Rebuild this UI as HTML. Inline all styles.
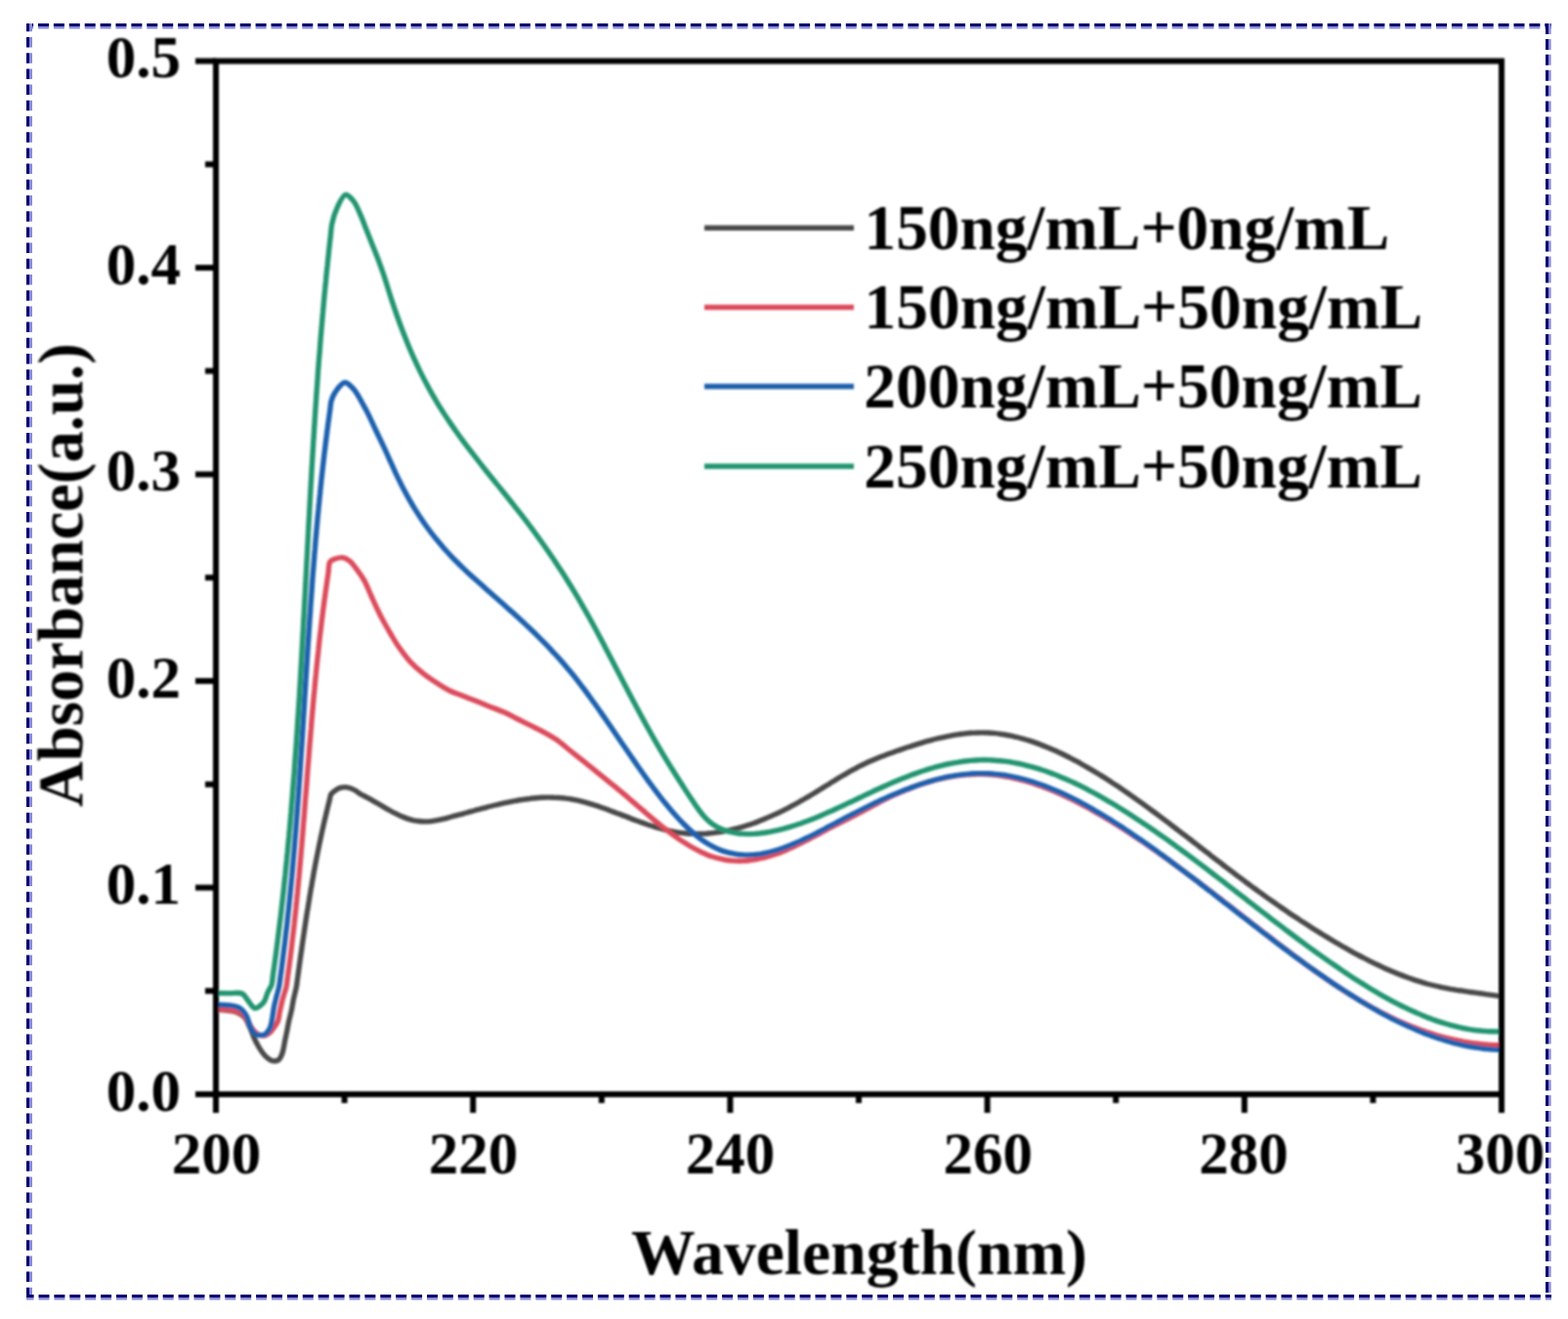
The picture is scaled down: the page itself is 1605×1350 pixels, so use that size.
<!DOCTYPE html><html><head><meta charset="utf-8"><style>html,body{margin:0;padding:0;background:#fff;overflow:hidden;width:1605px;height:1350px;}svg{display:block}text{font-family:"Liberation Serif",serif;font-weight:bold;fill:#000}</style></head><body>
<svg width="1605" height="1350" viewBox="0 0 1605 1350">
<defs><filter id="bl" x="0" y="0" width="1605" height="1350" filterUnits="userSpaceOnUse"><feGaussianBlur stdDeviation="1"/></filter></defs>
<rect width="1605" height="1350" fill="#fff"/>
<line x1="27" y1="25.5" x2="1588" y2="25.5" stroke="#00006e" stroke-width="3" stroke-dasharray="11 4.9" stroke-dashoffset="3.9"/>
<line x1="27" y1="28.3" x2="1588" y2="28.3" stroke="#8a8ad6" stroke-width="2.6" stroke-dasharray="11 4.9" stroke-dashoffset="3.9"/>
<line x1="28.5" y1="24" x2="28.5" y2="1330" stroke="#00006e" stroke-width="3" stroke-dasharray="10.5 5.7" stroke-dashoffset="2.2"/>
<line x1="31.5" y1="24" x2="31.5" y2="1330" stroke="#8a8ad6" stroke-width="3" stroke-dasharray="10.5 5.7" stroke-dashoffset="2.2"/>
<line x1="1583.5" y1="24" x2="1583.5" y2="1330" stroke="#00006e" stroke-width="3" stroke-dasharray="11 4.9" stroke-dashoffset="0"/>
<line x1="1586.3" y1="24" x2="1586.3" y2="1330" stroke="#8a8ad6" stroke-width="2.6" stroke-dasharray="11 4.9" stroke-dashoffset="0"/>
<line x1="27" y1="1326.5" x2="1588" y2="1326.5" stroke="#00006e" stroke-width="3" stroke-dasharray="11 4.9" stroke-dashoffset="3.4"/>
<line x1="27" y1="1329.3" x2="1588" y2="1329.3" stroke="#8a8ad6" stroke-width="2.6" stroke-dasharray="11 4.9" stroke-dashoffset="3.4"/>
<g filter="url(#bl)">
<path d="M221.0 1033.5 C224.7 1033.7 228.4 1033.6 232.0 1034.0 C235.4 1034.4 239.0 1034.8 242.0 1036.0 C244.9 1037.2 247.8 1038.6 250.0 1041.0 C252.6 1043.7 254.2 1048.3 256.0 1052.0 C257.7 1055.6 258.9 1059.8 260.4 1063.0 C261.6 1065.6 262.7 1067.7 264.0 1070.0 C265.3 1072.3 266.6 1074.6 268.2 1076.7 C269.7 1078.8 271.5 1081.0 273.3 1082.5 C274.8 1083.8 276.5 1084.9 278.0 1085.5 C279.1 1085.9 280.0 1086.0 281.1 1086.0 C282.3 1085.9 283.9 1085.8 285.0 1085.0 C286.3 1084.1 287.2 1082.1 288.0 1080.5 C288.8 1078.8 289.3 1077.1 289.8 1075.0 C290.5 1072.4 290.9 1069.1 291.5 1066.0 C292.1 1062.8 292.9 1059.4 293.6 1056.0 C294.3 1052.6 294.8 1049.1 295.6 1045.6 C296.4 1042.1 297.4 1038.7 298.2 1035.0 C299.1 1030.9 299.7 1026.2 300.6 1022.0 C301.5 1017.9 302.7 1013.6 303.4 1010.0 C303.9 1007.1 304.1 1004.7 304.5 1002.0 C304.9 999.3 305.2 996.7 305.6 994.0 C306.0 991.3 306.3 988.7 306.7 986.0 C307.1 983.3 307.4 980.7 307.8 978.0 C308.2 975.3 308.6 972.7 309.0 970.0 C309.3 967.3 309.7 964.7 310.1 962.0 C310.5 959.3 310.9 956.7 311.3 954.0 C311.7 951.3 312.1 948.7 312.5 946.0 C312.9 943.3 313.3 940.7 313.7 938.0 C314.1 935.3 314.5 932.7 315.0 930.0 C315.4 927.3 315.8 924.7 316.3 922.0 C316.7 919.3 317.1 916.7 317.6 914.0 C318.0 911.3 318.5 908.7 319.0 906.0 C319.4 903.3 319.9 900.7 320.4 898.0 C320.8 895.3 321.3 892.7 321.8 890.0 C322.3 887.3 322.8 884.7 323.3 882.0 C323.8 879.3 324.4 876.7 324.9 874.0 C325.4 871.3 326.0 868.7 326.5 866.0 C327.1 863.3 327.6 860.7 328.2 858.0 C328.8 855.3 329.3 852.7 329.9 850.0 C330.5 847.3 331.1 844.7 331.7 842.0 C332.3 839.3 333.0 836.7 333.6 834.0 C334.2 831.3 334.9 828.7 335.5 826.0 C336.2 823.3 336.9 820.4 337.5 818.0 C338.0 816.1 337.9 814.5 338.8 813.0 C339.9 811.3 342.2 809.7 344.0 808.5 C345.6 807.5 347.4 806.7 349.0 806.2 C350.4 805.8 351.6 805.6 353.0 805.6 C354.6 805.6 356.3 806.0 358.0 806.5 C359.8 807.1 361.8 808.0 363.6 809.0 C365.5 810.1 367.1 811.7 369.0 812.8 C370.9 814.0 373.0 814.7 375.0 815.8 C377.0 816.8 379.0 817.9 381.0 819.1 C383.0 820.2 385.0 821.4 387.0 822.5 C389.0 823.7 391.0 824.9 393.0 826.1 C395.0 827.2 397.0 828.4 399.0 829.5 C401.0 830.6 403.0 831.7 405.0 832.7 C407.0 833.7 409.0 834.7 411.0 835.6 C413.0 836.4 415.0 837.2 417.0 837.9 C419.0 838.6 421.0 839.1 423.0 839.6 C425.0 840.0 427.0 840.3 429.0 840.5 C431.0 840.8 433.0 840.9 435.0 840.9 C437.0 840.9 439.0 840.8 441.0 840.6 C443.0 840.4 445.0 840.1 447.0 839.7 C449.0 839.4 451.0 838.9 453.0 838.4 C455.0 837.9 457.0 837.4 459.0 836.8 C461.0 836.3 463.0 835.7 465.0 835.2 C467.0 834.7 469.0 834.1 471.0 833.6 C473.0 833.1 475.0 832.5 477.0 832.0 C479.0 831.4 481.0 830.9 483.0 830.3 C485.0 829.8 487.0 829.2 489.0 828.7 C491.0 828.2 493.0 827.6 495.0 827.1 C497.0 826.6 499.0 826.0 501.0 825.5 C503.0 825.0 505.0 824.5 507.0 824.0 C509.0 823.5 511.0 823.1 513.0 822.6 C515.0 822.2 517.0 821.7 519.0 821.3 C521.0 820.9 523.0 820.5 525.0 820.1 C527.0 819.7 529.0 819.4 531.0 819.0 C533.0 818.7 535.0 818.4 537.0 818.1 C539.0 817.8 541.0 817.6 543.0 817.3 C545.0 817.1 547.0 816.9 549.0 816.7 C551.0 816.5 553.0 816.4 555.0 816.3 C557.0 816.2 559.0 816.1 561.0 816.1 C563.0 816.1 565.0 816.1 567.0 816.2 C569.0 816.2 571.0 816.3 573.0 816.5 C575.0 816.6 577.0 816.8 579.0 817.1 C581.0 817.3 583.0 817.7 585.0 818.0 C587.0 818.4 589.0 818.8 591.0 819.2 C593.0 819.6 595.0 820.1 597.0 820.7 C599.0 821.2 601.0 821.7 603.0 822.3 C605.0 822.9 607.0 823.5 609.0 824.2 C611.0 824.8 613.0 825.5 615.0 826.2 C617.0 826.9 619.0 827.6 621.0 828.3 C623.0 829.1 625.0 829.8 627.0 830.6 C629.0 831.3 631.0 832.1 633.0 832.8 C635.0 833.6 637.0 834.4 639.0 835.1 C641.0 835.9 643.0 836.7 645.0 837.4 C647.0 838.2 649.0 839.0 651.0 839.7 C653.0 840.4 655.0 841.2 657.0 841.9 C659.0 842.6 661.0 843.3 663.0 844.0 C665.0 844.6 667.0 845.3 669.0 845.9 C671.0 846.6 673.0 847.2 675.0 847.7 C677.0 848.3 679.0 848.8 681.0 849.3 C683.0 849.8 685.0 850.3 687.0 850.7 C689.0 851.1 691.0 851.5 693.0 851.8 C695.0 852.1 697.0 852.4 699.0 852.6 C701.0 852.8 703.0 853.0 705.0 853.2 C707.0 853.3 709.0 853.4 711.0 853.4 C713.0 853.5 715.0 853.5 717.0 853.4 C719.0 853.4 721.0 853.3 723.0 853.2 C725.0 853.0 727.0 852.9 729.0 852.6 C731.0 852.4 733.0 852.2 735.0 851.9 C737.0 851.6 739.0 851.3 741.0 850.9 C743.0 850.5 745.0 850.1 747.0 849.7 C749.0 849.2 751.0 848.7 753.0 848.2 C755.0 847.7 757.0 847.2 759.0 846.6 C761.0 846.0 763.0 845.4 765.0 844.7 C767.0 844.1 769.0 843.4 771.0 842.7 C773.0 842.0 775.0 841.2 777.0 840.4 C779.0 839.7 781.0 838.9 783.0 838.0 C785.0 837.2 787.0 836.3 789.0 835.4 C791.0 834.6 793.0 833.6 795.0 832.7 C797.0 831.8 799.0 830.8 801.0 829.8 C803.0 828.8 805.0 827.8 807.0 826.8 C809.0 825.7 811.0 824.6 813.0 823.6 C815.0 822.5 817.0 821.4 819.0 820.2 C821.0 819.1 823.0 818.0 825.0 816.8 C827.0 815.6 829.0 814.5 831.0 813.3 C833.0 812.1 835.0 810.8 837.0 809.6 C839.0 808.4 841.0 807.1 843.0 805.9 C845.0 804.7 847.0 803.4 849.0 802.2 C851.0 800.9 853.0 799.7 855.0 798.4 C857.0 797.2 859.0 796.0 861.0 794.8 C863.0 793.6 865.0 792.4 867.0 791.3 C869.0 790.1 871.0 789.0 873.0 787.9 C875.0 786.8 877.0 785.8 879.0 784.7 C881.0 783.7 883.0 782.7 885.0 781.8 C887.0 780.8 889.0 779.9 891.0 779.0 C893.0 778.2 895.0 777.3 897.0 776.5 C899.0 775.7 901.0 774.9 903.0 774.1 C905.0 773.3 907.0 772.6 909.0 771.8 C911.0 771.1 913.0 770.4 915.0 769.7 C917.0 768.9 919.0 768.3 921.0 767.6 C923.0 766.9 925.0 766.2 927.0 765.5 C929.0 764.9 931.0 764.2 933.0 763.6 C935.0 762.9 937.0 762.3 939.0 761.6 C941.0 761.0 943.0 760.4 945.0 759.8 C947.0 759.2 949.0 758.7 951.0 758.1 C953.0 757.6 955.0 757.0 957.0 756.5 C959.0 756.0 961.0 755.5 963.0 755.1 C965.0 754.6 967.0 754.2 969.0 753.8 C971.0 753.4 973.0 753.0 975.0 752.6 C977.0 752.3 979.0 751.9 981.0 751.6 C983.0 751.4 985.0 751.1 987.0 750.9 C989.0 750.7 991.0 750.5 993.0 750.3 C995.0 750.2 997.0 750.0 999.0 750.0 C1001.0 749.9 1003.0 749.9 1005.0 749.9 C1007.0 749.9 1009.0 749.9 1011.0 750.0 C1013.0 750.1 1015.0 750.2 1017.0 750.4 C1019.0 750.6 1021.0 750.8 1023.0 751.1 C1025.0 751.4 1027.0 751.7 1029.0 752.0 C1031.0 752.3 1033.0 752.7 1035.0 753.1 C1037.0 753.6 1039.0 754.0 1041.0 754.5 C1043.0 755.0 1045.0 755.5 1047.0 756.1 C1049.0 756.7 1051.0 757.3 1053.0 757.9 C1055.0 758.5 1057.0 759.2 1059.0 759.9 C1061.0 760.6 1063.0 761.3 1065.0 762.1 C1067.0 762.8 1069.0 763.6 1071.0 764.4 C1073.0 765.2 1075.0 766.1 1077.0 767.0 C1079.0 767.8 1081.0 768.7 1083.0 769.7 C1085.0 770.6 1087.0 771.5 1089.0 772.5 C1091.0 773.5 1093.0 774.5 1095.0 775.5 C1097.0 776.6 1099.0 777.6 1101.0 778.7 C1103.0 779.7 1105.0 780.8 1107.0 782.0 C1109.0 783.1 1111.0 784.2 1113.0 785.4 C1115.0 786.5 1117.0 787.7 1119.0 788.9 C1121.0 790.1 1123.0 791.3 1125.0 792.5 C1127.0 793.8 1129.0 795.0 1131.0 796.3 C1133.0 797.6 1135.0 798.9 1137.0 800.1 C1139.0 801.5 1141.0 802.8 1143.0 804.1 C1145.0 805.4 1147.0 806.8 1149.0 808.1 C1151.0 809.5 1153.0 810.9 1155.0 812.3 C1157.0 813.7 1159.0 815.1 1161.0 816.5 C1163.0 817.9 1165.0 819.3 1167.0 820.7 C1169.0 822.2 1171.0 823.6 1173.0 825.1 C1175.0 826.5 1177.0 828.0 1179.0 829.5 C1181.0 830.9 1183.0 832.4 1185.0 833.9 C1187.0 835.4 1189.0 836.9 1191.0 838.4 C1193.0 839.9 1195.0 841.4 1197.0 842.9 C1199.0 844.5 1201.0 846.0 1203.0 847.5 C1205.0 849.0 1207.0 850.6 1209.0 852.1 C1211.0 853.6 1213.0 855.2 1215.0 856.7 C1217.0 858.2 1219.0 859.8 1221.0 861.3 C1223.0 862.9 1225.0 864.4 1227.0 866.0 C1229.0 867.5 1231.0 869.1 1233.0 870.6 C1235.0 872.2 1237.0 873.7 1239.0 875.3 C1241.0 876.8 1243.0 878.3 1245.0 879.9 C1247.0 881.4 1249.0 883.0 1251.0 884.5 C1253.0 886.0 1255.0 887.6 1257.0 889.1 C1259.0 890.6 1261.0 892.1 1263.0 893.6 C1265.0 895.2 1267.0 896.7 1269.0 898.2 C1271.0 899.7 1273.0 901.2 1275.0 902.7 C1277.0 904.1 1279.0 905.6 1281.0 907.1 C1283.0 908.6 1285.0 910.0 1287.0 911.5 C1289.0 912.9 1291.0 914.4 1293.0 915.8 C1295.0 917.3 1297.0 918.7 1299.0 920.1 C1301.0 921.5 1303.0 922.9 1305.0 924.3 C1307.0 925.7 1309.0 927.1 1311.0 928.5 C1313.0 929.9 1315.0 931.2 1317.0 932.6 C1319.0 934.0 1321.0 935.3 1323.0 936.7 C1325.0 938.0 1327.0 939.3 1329.0 940.6 C1331.0 942.0 1333.0 943.3 1335.0 944.6 C1337.0 945.9 1339.0 947.2 1341.0 948.4 C1343.0 949.7 1345.0 951.0 1347.0 952.2 C1349.0 953.5 1351.0 954.7 1353.0 956.0 C1355.0 957.2 1357.0 958.4 1359.0 959.6 C1361.0 960.8 1363.0 962.0 1365.0 963.2 C1367.0 964.4 1369.0 965.6 1371.0 966.7 C1373.0 967.9 1375.0 969.1 1377.0 970.2 C1379.0 971.3 1381.0 972.5 1383.0 973.6 C1385.0 974.7 1387.0 975.8 1389.0 976.8 C1391.0 977.9 1393.0 979.0 1395.0 980.0 C1397.0 981.1 1399.0 982.1 1401.0 983.1 C1403.0 984.1 1405.0 985.1 1407.0 986.1 C1409.0 987.0 1411.0 988.0 1413.0 988.9 C1415.0 989.9 1417.0 990.8 1419.0 991.7 C1421.0 992.6 1423.0 993.4 1425.0 994.3 C1427.0 995.1 1429.0 996.0 1431.0 996.8 C1433.0 997.6 1435.0 998.4 1437.0 999.1 C1439.0 999.9 1441.0 1000.6 1443.0 1001.3 C1445.0 1002.0 1447.0 1002.7 1449.0 1003.4 C1451.0 1004.0 1453.0 1004.6 1455.0 1005.2 C1457.0 1005.8 1459.0 1006.4 1461.0 1007.0 C1463.0 1007.5 1465.0 1008.0 1467.0 1008.5 C1469.0 1009.0 1471.0 1009.5 1473.0 1009.9 C1475.0 1010.3 1477.0 1010.8 1479.0 1011.1 C1481.0 1011.5 1483.0 1011.9 1485.0 1012.3 C1487.0 1012.6 1489.0 1012.9 1491.0 1013.3 C1493.0 1013.6 1495.0 1013.9 1497.0 1014.2 C1499.0 1014.5 1501.0 1014.8 1503.0 1015.1 C1505.0 1015.4 1507.0 1015.6 1509.0 1015.9 C1511.0 1016.2 1513.0 1016.5 1515.0 1016.7 C1517.0 1017.0 1519.0 1017.3 1521.0 1017.6 C1523.0 1017.8 1524.8 1018.1 1527.0 1018.4 C1529.7 1018.8 1533.0 1019.4 1536.0 1019.8" fill="none" stroke="#4a4a4a" stroke-width="5.4" stroke-linejoin="round" stroke-linecap="round"/>
<path d="M221.0 1033.0 C224.7 1033.2 228.4 1033.2 232.0 1033.6 C235.4 1034.0 239.0 1034.6 242.0 1035.5 C244.6 1036.3 247.1 1036.9 249.0 1038.5 C251.1 1040.3 252.4 1043.4 254.0 1046.0 C255.7 1048.6 257.2 1051.8 259.0 1054.0 C260.5 1055.8 262.1 1057.5 264.0 1058.5 C265.8 1059.5 268.0 1060.2 270.0 1060.0 C272.0 1059.8 274.2 1058.4 276.0 1057.0 C277.9 1055.5 279.6 1053.1 281.0 1051.0 C282.4 1049.1 283.6 1047.3 284.5 1045.0 C285.6 1042.2 285.7 1038.5 286.5 1035.0 C287.4 1030.9 288.4 1026.2 289.5 1022.0 C290.6 1017.9 292.3 1013.6 293.1 1010.0 C293.7 1007.1 293.8 1004.7 294.2 1002.0 C294.6 999.3 294.9 996.7 295.3 994.0 C295.7 991.3 296.0 988.7 296.4 986.0 C296.7 983.3 297.1 980.7 297.4 978.0 C297.7 975.3 298.1 972.7 298.4 970.0 C298.7 967.3 299.0 964.7 299.3 962.0 C299.6 959.3 300.0 956.7 300.3 954.0 C300.6 951.3 300.9 948.7 301.2 946.0 C301.4 943.3 301.7 940.7 302.0 938.0 C302.3 935.3 302.6 932.7 302.9 930.0 C303.1 927.3 303.4 924.7 303.7 922.0 C303.9 919.3 304.2 916.7 304.5 914.0 C304.7 911.3 305.0 908.7 305.2 906.0 C305.5 903.3 305.7 900.7 306.0 898.0 C306.2 895.3 306.5 892.7 306.7 890.0 C306.9 887.3 307.2 884.7 307.4 882.0 C307.6 879.3 307.9 876.7 308.1 874.0 C308.3 871.3 308.5 868.7 308.8 866.0 C309.0 863.3 309.2 860.7 309.4 858.0 C309.7 855.3 309.9 852.7 310.1 850.0 C310.3 847.3 310.5 844.7 310.7 842.0 C311.0 839.3 311.2 836.7 311.4 834.0 C311.6 831.3 311.8 828.7 312.0 826.0 C312.2 823.3 312.4 820.7 312.6 818.0 C312.8 815.3 313.1 812.7 313.3 810.0 C313.5 807.3 313.7 804.7 313.9 802.0 C314.1 799.3 314.3 796.7 314.5 794.0 C314.7 791.3 314.9 788.7 315.1 786.0 C315.3 783.3 315.6 780.7 315.8 778.0 C316.0 775.3 316.2 772.7 316.4 770.0 C316.6 767.3 316.8 764.7 317.0 762.0 C317.3 759.3 317.5 756.7 317.7 754.0 C317.9 751.3 318.1 748.7 318.4 746.0 C318.6 743.3 318.8 740.7 319.0 738.0 C319.2 735.3 319.5 732.7 319.7 730.0 C319.9 727.3 320.2 724.7 320.4 722.0 C320.6 719.3 320.9 716.7 321.1 714.0 C321.4 711.3 321.6 708.7 321.9 706.0 C322.1 703.3 322.4 700.7 322.6 698.0 C322.9 695.3 323.1 692.7 323.4 690.0 C323.6 687.3 323.9 684.7 324.2 682.0 C324.5 679.3 324.7 676.7 325.0 674.0 C325.3 671.3 325.6 668.7 325.9 666.0 C326.1 663.3 326.4 660.7 326.7 658.0 C327.0 655.3 327.3 652.7 327.6 650.0 C327.9 647.3 328.3 644.7 328.6 642.0 C328.9 639.3 329.2 636.7 329.5 634.0 C329.9 631.3 330.2 628.7 330.5 626.0 C330.9 623.3 331.2 620.7 331.6 618.0 C331.9 615.3 332.3 612.7 332.7 610.0 C333.0 607.3 333.4 604.7 333.8 602.0 C334.2 599.3 334.5 596.7 334.9 594.0 C335.3 591.3 335.7 588.9 336.1 586.0 C336.6 582.6 336.2 577.3 337.8 575.0 C339.0 573.3 341.0 572.7 343.0 572.0 C345.2 571.2 348.2 570.3 350.7 570.7 C353.3 571.1 355.8 572.6 358.1 574.4 C360.8 576.6 363.2 580.1 365.6 583.3 C368.2 586.7 370.7 590.2 373.0 594.4 C375.6 599.2 377.8 605.3 380.2 610.5 C382.4 615.3 384.5 620.0 386.7 624.5 C388.8 628.9 391.0 633.2 393.3 637.3 C395.5 641.3 397.7 645.2 400.0 649.0 C402.2 652.7 404.0 656.0 406.7 660.0 C410.3 665.2 415.3 672.2 420.0 677.3 C424.2 681.9 428.7 685.7 433.3 689.3 C437.7 692.8 442.2 695.8 446.7 698.7 C451.1 701.6 455.5 704.5 460.0 706.7 C464.3 708.9 468.9 710.2 473.3 712.0 C477.8 713.8 482.2 715.5 486.7 717.3 C491.1 719.1 495.3 720.8 500.0 722.7 C505.2 724.8 511.5 727.0 516.7 729.3 C521.4 731.4 525.6 733.8 530.0 736.0 C534.4 738.2 538.9 740.5 543.3 742.7 C547.8 744.9 552.3 746.9 556.7 749.3 C561.2 751.8 565.7 754.3 570.0 757.3 C574.5 760.5 578.9 764.4 583.3 768.0 C587.8 771.6 592.2 775.1 596.7 778.7 C601.1 782.2 605.7 785.8 610.0 789.3 C614.1 792.6 618.7 796.4 622.0 799.1 C624.3 801.0 626.0 802.3 628.0 803.9 C630.0 805.5 632.0 807.2 634.0 808.9 C636.0 810.5 638.0 812.2 640.0 813.9 C642.0 815.6 644.0 817.4 646.0 819.1 C648.0 820.8 650.0 822.5 652.0 824.3 C654.0 826.0 656.0 827.7 658.0 829.4 C660.0 831.1 662.0 832.9 664.0 834.6 C666.0 836.3 668.0 837.9 670.0 839.6 C672.0 841.3 674.0 842.9 676.0 844.5 C678.0 846.1 680.0 847.7 682.0 849.2 C684.0 850.8 686.0 852.3 688.0 853.8 C690.0 855.3 692.0 856.7 694.0 858.1 C696.0 859.5 698.0 860.8 700.0 862.1 C702.0 863.4 704.0 864.7 706.0 865.8 C708.0 867.0 710.0 868.2 712.0 869.2 C714.0 870.3 716.0 871.3 718.0 872.3 C720.0 873.2 722.0 874.1 724.0 874.9 C726.0 875.7 728.0 876.4 730.0 877.0 C732.0 877.7 734.0 878.2 736.0 878.7 C738.0 879.2 740.0 879.6 742.0 880.0 C744.0 880.3 746.0 880.6 748.0 880.8 C750.0 880.9 752.0 881.1 754.0 881.1 C756.0 881.2 758.0 881.2 760.0 881.1 C762.0 881.0 764.0 880.9 766.0 880.7 C768.0 880.5 770.0 880.2 772.0 879.9 C774.0 879.6 776.0 879.2 778.0 878.7 C780.0 878.3 782.0 877.8 784.0 877.3 C786.0 876.7 788.0 876.2 790.0 875.5 C792.0 874.9 794.0 874.2 796.0 873.5 C798.0 872.7 800.0 872.0 802.0 871.2 C804.0 870.3 806.0 869.5 808.0 868.6 C810.0 867.7 812.0 866.8 814.0 865.8 C816.0 864.9 818.0 863.9 820.0 862.9 C822.0 861.9 824.0 860.9 826.0 859.9 C828.0 858.8 830.0 857.8 832.0 856.7 C834.0 855.7 836.0 854.6 838.0 853.6 C840.0 852.5 842.0 851.4 844.0 850.4 C846.0 849.3 848.0 848.2 850.0 847.2 C852.0 846.1 854.0 845.1 856.0 844.1 C858.0 843.1 860.0 842.1 862.0 841.1 C864.0 840.1 866.0 839.1 868.0 838.1 C870.0 837.1 872.0 836.1 874.0 835.0 C876.0 834.0 878.0 833.0 880.0 831.9 C882.0 830.9 884.0 829.8 886.0 828.7 C888.0 827.6 890.0 826.5 892.0 825.5 C894.0 824.4 896.0 823.3 898.0 822.3 C900.0 821.2 902.0 820.2 904.0 819.2 C906.0 818.2 908.0 817.2 910.0 816.2 C912.0 815.2 914.0 814.3 916.0 813.4 C918.0 812.5 920.0 811.6 922.0 810.7 C924.0 809.9 926.0 809.0 928.0 808.2 C930.0 807.4 932.0 806.6 934.0 805.9 C936.0 805.1 938.0 804.4 940.0 803.7 C942.0 803.0 944.0 802.3 946.0 801.7 C948.0 801.0 950.0 800.4 952.0 799.8 C954.0 799.3 956.0 798.7 958.0 798.2 C960.0 797.7 962.0 797.2 964.0 796.7 C966.0 796.3 968.0 795.9 970.0 795.5 C972.0 795.1 974.0 794.7 976.0 794.4 C978.0 794.1 980.0 793.8 982.0 793.6 C984.0 793.3 986.0 793.1 988.0 792.9 C990.0 792.8 992.0 792.6 994.0 792.5 C996.0 792.4 998.0 792.3 1000.0 792.3 C1002.0 792.3 1004.0 792.3 1006.0 792.3 C1008.0 792.4 1010.0 792.5 1012.0 792.6 C1014.0 792.7 1016.0 792.9 1018.0 793.1 C1020.0 793.3 1022.0 793.6 1024.0 793.9 C1026.0 794.1 1028.0 794.5 1030.0 794.8 C1032.0 795.2 1034.0 795.5 1036.0 796.0 C1038.0 796.4 1040.0 796.8 1042.0 797.3 C1044.0 797.8 1046.0 798.3 1048.0 798.9 C1050.0 799.5 1052.0 800.0 1054.0 800.7 C1056.0 801.3 1058.0 801.9 1060.0 802.6 C1062.0 803.3 1064.0 804.0 1066.0 804.7 C1068.0 805.4 1070.0 806.2 1072.0 807.0 C1074.0 807.8 1076.0 808.6 1078.0 809.4 C1080.0 810.3 1082.0 811.1 1084.0 812.0 C1086.0 812.9 1088.0 813.8 1090.0 814.8 C1092.0 815.7 1094.0 816.7 1096.0 817.6 C1098.0 818.6 1100.0 819.6 1102.0 820.6 C1104.0 821.7 1106.0 822.7 1108.0 823.8 C1110.0 824.8 1112.0 825.9 1114.0 827.0 C1116.0 828.1 1118.0 829.2 1120.0 830.4 C1122.0 831.5 1124.0 832.7 1126.0 833.8 C1128.0 835.0 1130.0 836.2 1132.0 837.4 C1134.0 838.6 1136.0 839.8 1138.0 841.0 C1140.0 842.2 1142.0 843.5 1144.0 844.7 C1146.0 846.0 1148.0 847.3 1150.0 848.5 C1152.0 849.8 1154.0 851.1 1156.0 852.4 C1158.0 853.7 1160.0 855.1 1162.0 856.4 C1164.0 857.7 1166.0 859.1 1168.0 860.4 C1170.0 861.8 1172.0 863.2 1174.0 864.5 C1176.0 865.9 1178.0 867.3 1180.0 868.7 C1182.0 870.1 1184.0 871.5 1186.0 872.9 C1188.0 874.3 1190.0 875.8 1192.0 877.2 C1194.0 878.6 1196.0 880.1 1198.0 881.5 C1200.0 883.0 1202.0 884.5 1204.0 885.9 C1206.0 887.4 1208.0 888.9 1210.0 890.4 C1212.0 891.8 1214.0 893.3 1216.0 894.8 C1218.0 896.3 1220.0 897.8 1222.0 899.3 C1224.0 900.8 1226.0 902.4 1228.0 903.9 C1230.0 905.4 1232.0 906.9 1234.0 908.4 C1236.0 910.0 1238.0 911.5 1240.0 913.0 C1242.0 914.6 1244.0 916.1 1246.0 917.6 C1248.0 919.2 1250.0 920.7 1252.0 922.3 C1254.0 923.8 1256.0 925.4 1258.0 926.9 C1260.0 928.5 1262.0 930.0 1264.0 931.6 C1266.0 933.1 1268.0 934.7 1270.0 936.2 C1272.0 937.8 1274.0 939.3 1276.0 940.9 C1278.0 942.5 1280.0 944.0 1282.0 945.6 C1284.0 947.1 1286.0 948.7 1288.0 950.2 C1290.0 951.8 1292.0 953.3 1294.0 954.9 C1296.0 956.4 1298.0 958.0 1300.0 959.5 C1302.0 961.0 1304.0 962.6 1306.0 964.1 C1308.0 965.6 1310.0 967.1 1312.0 968.7 C1314.0 970.2 1316.0 971.7 1318.0 973.2 C1320.0 974.7 1322.0 976.2 1324.0 977.7 C1326.0 979.2 1328.0 980.7 1330.0 982.2 C1332.0 983.6 1334.0 985.1 1336.0 986.6 C1338.0 988.0 1340.0 989.5 1342.0 990.9 C1344.0 992.3 1346.0 993.8 1348.0 995.2 C1350.0 996.6 1352.0 998.0 1354.0 999.4 C1356.0 1000.8 1358.0 1002.1 1360.0 1003.5 C1362.0 1004.9 1364.0 1006.2 1366.0 1007.6 C1368.0 1008.9 1370.0 1010.2 1372.0 1011.5 C1374.0 1012.8 1376.0 1014.1 1378.0 1015.4 C1380.0 1016.7 1382.0 1017.9 1384.0 1019.2 C1386.0 1020.4 1388.0 1021.6 1390.0 1022.8 C1392.0 1024.0 1394.0 1025.2 1396.0 1026.4 C1398.0 1027.6 1400.0 1028.7 1402.0 1029.8 C1404.0 1031.0 1406.0 1032.1 1408.0 1033.1 C1410.0 1034.2 1412.0 1035.3 1414.0 1036.3 C1416.0 1037.4 1418.0 1038.4 1420.0 1039.4 C1422.0 1040.4 1424.0 1041.4 1426.0 1042.3 C1428.0 1043.3 1430.0 1044.2 1432.0 1045.1 C1434.0 1046.0 1436.0 1046.9 1438.0 1047.8 C1440.0 1048.6 1442.0 1049.4 1444.0 1050.3 C1446.0 1051.1 1448.0 1051.9 1450.0 1052.6 C1452.0 1053.4 1454.0 1054.1 1456.0 1054.8 C1458.0 1055.6 1460.0 1056.2 1462.0 1056.9 C1464.0 1057.6 1466.0 1058.2 1468.0 1058.8 C1470.0 1059.5 1472.0 1060.0 1474.0 1060.6 C1476.0 1061.2 1478.0 1061.7 1480.0 1062.2 C1482.0 1062.7 1484.0 1063.2 1486.0 1063.7 C1488.0 1064.2 1490.0 1064.6 1492.0 1065.0 C1494.0 1065.4 1496.0 1065.8 1498.0 1066.2 C1500.0 1066.5 1502.0 1066.9 1504.0 1067.2 C1506.0 1067.5 1508.0 1067.8 1510.0 1068.0 C1512.0 1068.3 1514.0 1068.5 1516.0 1068.7 C1518.0 1068.9 1520.0 1069.1 1522.0 1069.2 C1524.0 1069.4 1525.9 1069.5 1528.0 1069.6 C1530.5 1069.7 1533.3 1069.7 1536.0 1069.8" fill="none" stroke="#dc4c5c" stroke-width="5.4" stroke-linejoin="round" stroke-linecap="round"/>
<path d="M221.0 1028.3 C225.7 1028.5 230.9 1028.4 235.0 1029.0 C238.4 1029.5 241.5 1029.8 244.0 1031.0 C246.0 1032.0 247.6 1033.4 249.0 1035.0 C250.4 1036.6 251.5 1038.2 252.6 1040.4 C254.0 1043.2 254.8 1047.6 256.2 1050.5 C257.3 1053.0 258.6 1055.5 260.0 1057.0 C260.9 1058.0 261.9 1058.6 263.0 1059.0 C264.2 1059.4 265.7 1059.5 267.0 1059.5 C268.3 1059.5 269.6 1059.5 270.7 1059.0 C271.9 1058.4 273.0 1057.3 274.0 1056.0 C275.2 1054.5 276.2 1052.7 277.0 1050.5 C278.0 1047.7 278.4 1043.8 279.0 1040.4 C279.6 1037.0 279.9 1033.4 280.6 1030.0 C281.3 1026.6 282.2 1023.3 283.0 1020.0 C283.8 1016.7 285.0 1013.2 285.6 1010.0 C286.2 1007.2 286.4 1004.7 286.8 1002.0 C287.1 999.3 287.5 996.7 287.9 994.0 C288.2 991.3 288.6 988.7 288.9 986.0 C289.3 983.3 289.6 980.7 289.9 978.0 C290.3 975.3 290.6 972.7 290.9 970.0 C291.3 967.3 291.6 964.7 291.9 962.0 C292.2 959.3 292.5 956.7 292.8 954.0 C293.2 951.3 293.5 948.7 293.8 946.0 C294.1 943.3 294.3 940.7 294.6 938.0 C294.9 935.3 295.2 932.7 295.5 930.0 C295.8 927.3 296.0 924.7 296.3 922.0 C296.6 919.3 296.9 916.7 297.1 914.0 C297.4 911.3 297.6 908.7 297.9 906.0 C298.2 903.3 298.4 900.7 298.7 898.0 C298.9 895.3 299.2 892.7 299.4 890.0 C299.6 887.3 299.9 884.7 300.1 882.0 C300.3 879.3 300.6 876.7 300.8 874.0 C301.0 871.3 301.3 868.7 301.5 866.0 C301.7 863.3 301.9 860.7 302.1 858.0 C302.4 855.3 302.6 852.7 302.8 850.0 C303.0 847.3 303.2 844.7 303.4 842.0 C303.6 839.3 303.8 836.7 304.0 834.0 C304.2 831.3 304.4 828.7 304.6 826.0 C304.8 823.3 305.0 820.7 305.2 818.0 C305.4 815.3 305.6 812.7 305.8 810.0 C305.9 807.3 306.1 804.7 306.3 802.0 C306.5 799.3 306.7 796.7 306.9 794.0 C307.0 791.3 307.2 788.7 307.4 786.0 C307.6 783.3 307.7 780.7 307.9 778.0 C308.1 775.3 308.3 772.7 308.4 770.0 C308.6 767.3 308.8 764.7 309.0 762.0 C309.1 759.3 309.3 756.7 309.5 754.0 C309.6 751.3 309.8 748.7 310.0 746.0 C310.1 743.3 310.3 740.7 310.5 738.0 C310.6 735.3 310.8 732.7 311.0 730.0 C311.1 727.3 311.3 724.7 311.5 722.0 C311.6 719.3 311.8 716.7 311.9 714.0 C312.1 711.3 312.3 708.7 312.4 706.0 C312.6 703.3 312.8 700.7 312.9 698.0 C313.1 695.3 313.3 692.7 313.4 690.0 C313.6 687.3 313.8 684.7 313.9 682.0 C314.1 679.3 314.3 676.7 314.4 674.0 C314.6 671.3 314.8 668.7 314.9 666.0 C315.1 663.3 315.3 660.7 315.4 658.0 C315.6 655.3 315.8 652.7 316.0 650.0 C316.1 647.3 316.3 644.7 316.5 642.0 C316.7 639.3 316.8 636.7 317.0 634.0 C317.2 631.3 317.4 628.7 317.6 626.0 C317.7 623.3 317.9 620.7 318.1 618.0 C318.3 615.3 318.5 612.7 318.7 610.0 C318.9 607.3 319.1 604.7 319.3 602.0 C319.4 599.3 319.6 596.7 319.8 594.0 C320.0 591.3 320.2 588.7 320.4 586.0 C320.7 583.3 320.9 580.7 321.1 578.0 C321.3 575.3 321.5 572.7 321.7 570.0 C321.9 567.3 322.1 564.7 322.4 562.0 C322.6 559.3 322.8 556.7 323.0 554.0 C323.2 551.3 323.5 548.7 323.7 546.0 C323.9 543.3 324.2 540.7 324.4 538.0 C324.7 535.3 324.9 532.7 325.1 530.0 C325.4 527.3 325.6 524.7 325.9 522.0 C326.1 519.3 326.4 516.7 326.7 514.0 C326.9 511.3 327.2 508.7 327.5 506.0 C327.7 503.3 328.0 500.7 328.3 498.0 C328.6 495.3 328.8 492.7 329.1 490.0 C329.4 487.3 329.7 484.7 330.0 482.0 C330.3 479.3 330.6 476.7 330.9 474.0 C331.2 471.3 331.5 468.7 331.8 466.0 C332.1 463.3 332.5 460.7 332.8 458.0 C333.1 455.3 333.4 452.7 333.8 450.0 C334.1 447.3 334.4 444.7 334.8 442.0 C335.1 439.3 335.5 436.7 335.8 434.0 C336.2 431.3 336.6 428.7 336.9 426.0 C337.3 423.3 337.7 420.7 338.0 418.0 C338.4 415.3 338.4 412.7 339.2 410.0 C340.1 407.0 341.3 403.9 343.3 401.1 C345.7 397.7 349.7 391.7 353.0 391.5 C355.9 391.3 359.4 395.5 361.9 398.1 C364.3 400.7 366.3 404.4 367.8 407.0 C368.9 408.9 369.4 410.0 370.5 412.0 C372.1 414.9 374.3 418.6 376.3 422.6 C378.9 427.7 381.8 434.2 384.5 440.0 C387.2 445.7 390.0 451.3 392.6 456.9 C395.2 462.4 397.7 468.1 400.0 473.2 C402.1 477.9 404.0 482.1 406.0 486.4 C408.0 490.5 410.0 494.5 412.0 498.5 C414.0 502.3 416.0 506.0 418.0 509.6 C420.0 513.1 422.0 516.5 424.0 519.9 C426.0 523.1 428.0 526.2 430.0 529.3 C432.0 532.3 434.0 535.2 436.0 538.0 C438.0 540.8 440.0 543.5 442.0 546.1 C444.0 548.7 446.0 551.2 448.0 553.6 C450.0 556.0 452.0 558.4 454.0 560.7 C456.0 562.9 458.0 565.1 460.0 567.3 C462.0 569.4 464.0 571.5 466.0 573.5 C468.0 575.5 470.0 577.5 472.0 579.5 C474.0 581.4 476.0 583.3 478.0 585.2 C480.0 587.0 482.0 588.9 484.0 590.7 C486.0 592.5 488.0 594.3 490.0 596.1 C492.0 597.9 494.0 599.7 496.0 601.4 C498.0 603.2 500.0 605.0 502.0 606.7 C504.0 608.5 506.0 610.3 508.0 612.0 C510.0 613.8 512.0 615.6 514.0 617.3 C516.0 619.1 518.0 620.9 520.0 622.7 C522.0 624.5 524.0 626.2 526.0 628.0 C528.0 629.9 530.0 631.7 532.0 633.5 C534.0 635.4 536.0 637.2 538.0 639.1 C540.0 641.0 542.0 642.9 544.0 644.8 C546.0 646.7 548.0 648.6 550.0 650.6 C552.0 652.6 554.0 654.6 556.0 656.6 C558.0 658.7 560.0 660.7 562.0 662.8 C564.0 665.0 566.0 667.1 568.0 669.3 C570.0 671.5 572.0 673.7 574.0 675.9 C576.0 678.2 578.0 680.5 580.0 682.9 C582.0 685.3 584.0 687.7 586.0 690.1 C588.0 692.6 590.0 695.1 592.0 697.7 C594.0 700.3 596.0 702.9 598.0 705.5 C600.0 708.2 602.0 710.9 604.0 713.7 C606.0 716.4 608.0 719.2 610.0 722.0 C612.0 724.8 614.0 727.7 616.0 730.6 C618.0 733.4 620.0 736.3 622.0 739.2 C624.0 742.1 626.0 745.1 628.0 748.0 C630.0 750.9 632.0 753.8 634.0 756.8 C636.0 759.7 638.0 762.7 640.0 765.6 C642.0 768.5 644.0 771.4 646.0 774.3 C648.0 777.2 650.0 780.1 652.0 783.0 C654.0 785.8 656.0 788.7 658.0 791.5 C660.0 794.3 662.0 797.1 664.0 799.9 C666.0 802.6 668.0 805.3 670.0 808.0 C672.0 810.6 674.0 813.2 676.0 815.8 C678.0 818.4 680.0 820.9 682.0 823.3 C684.0 825.8 686.0 828.2 688.0 830.5 C690.0 832.8 692.0 835.0 694.0 837.2 C696.0 839.4 698.0 841.5 700.0 843.5 C702.0 845.5 704.0 847.5 706.0 849.3 C708.0 851.2 710.0 852.9 712.0 854.6 C714.0 856.2 716.0 857.8 718.0 859.3 C720.0 860.7 722.0 862.0 724.0 863.3 C726.0 864.5 728.0 865.6 730.0 866.7 C732.0 867.7 734.0 868.6 736.0 869.4 C738.0 870.2 740.0 871.0 742.0 871.6 C744.0 872.2 746.0 872.8 748.0 873.2 C750.0 873.7 752.0 874.0 754.0 874.3 C756.0 874.6 758.0 874.8 760.0 874.9 C762.0 875.0 764.0 875.1 766.0 875.1 C768.0 875.0 770.0 874.9 772.0 874.8 C774.0 874.6 776.0 874.3 778.0 874.1 C780.0 873.8 782.0 873.4 784.0 873.0 C786.0 872.6 788.0 872.1 790.0 871.5 C792.0 871.0 794.0 870.4 796.0 869.8 C798.0 869.2 800.0 868.5 802.0 867.8 C804.0 867.1 806.0 866.3 808.0 865.5 C810.0 864.7 812.0 863.9 814.0 863.0 C816.0 862.2 818.0 861.3 820.0 860.4 C822.0 859.4 824.0 858.5 826.0 857.5 C828.0 856.6 830.0 855.6 832.0 854.6 C834.0 853.6 836.0 852.5 838.0 851.5 C840.0 850.5 842.0 849.4 844.0 848.4 C846.0 847.3 848.0 846.2 850.0 845.2 C852.0 844.1 854.0 843.1 856.0 842.0 C858.0 841.0 860.0 839.9 862.0 838.8 C864.0 837.8 866.0 836.8 868.0 835.7 C870.0 834.7 872.0 833.6 874.0 832.6 C876.0 831.6 878.0 830.6 880.0 829.6 C882.0 828.6 884.0 827.6 886.0 826.6 C888.0 825.6 890.0 824.6 892.0 823.6 C894.0 822.7 896.0 821.7 898.0 820.8 C900.0 819.8 902.0 818.9 904.0 818.0 C906.0 817.1 908.0 816.2 910.0 815.3 C912.0 814.4 914.0 813.6 916.0 812.7 C918.0 811.9 920.0 811.0 922.0 810.2 C924.0 809.4 926.0 808.6 928.0 807.9 C930.0 807.1 932.0 806.3 934.0 805.6 C936.0 804.9 938.0 804.2 940.0 803.5 C942.0 802.8 944.0 802.2 946.0 801.5 C948.0 800.9 950.0 800.3 952.0 799.7 C954.0 799.1 956.0 798.6 958.0 798.0 C960.0 797.5 962.0 797.0 964.0 796.6 C966.0 796.1 968.0 795.6 970.0 795.2 C972.0 794.8 974.0 794.5 976.0 794.1 C978.0 793.8 980.0 793.5 982.0 793.2 C984.0 792.9 986.0 792.7 988.0 792.5 C990.0 792.2 992.0 792.1 994.0 791.9 C996.0 791.8 998.0 791.7 1000.0 791.6 C1002.0 791.6 1004.0 791.6 1006.0 791.6 C1008.0 791.6 1010.0 791.7 1012.0 791.8 C1014.0 791.9 1016.0 792.0 1018.0 792.2 C1020.0 792.3 1022.0 792.6 1024.0 792.8 C1026.0 793.1 1028.0 793.4 1030.0 793.7 C1032.0 794.0 1034.0 794.4 1036.0 794.8 C1038.0 795.2 1040.0 795.6 1042.0 796.1 C1044.0 796.6 1046.0 797.1 1048.0 797.6 C1050.0 798.1 1052.0 798.7 1054.0 799.3 C1056.0 799.9 1058.0 800.5 1060.0 801.2 C1062.0 801.9 1064.0 802.6 1066.0 803.3 C1068.0 804.0 1070.0 804.8 1072.0 805.5 C1074.0 806.3 1076.0 807.1 1078.0 808.0 C1080.0 808.8 1082.0 809.7 1084.0 810.5 C1086.0 811.4 1088.0 812.3 1090.0 813.3 C1092.0 814.2 1094.0 815.2 1096.0 816.2 C1098.0 817.2 1100.0 818.2 1102.0 819.2 C1104.0 820.2 1106.0 821.3 1108.0 822.4 C1110.0 823.4 1112.0 824.5 1114.0 825.7 C1116.0 826.8 1118.0 827.9 1120.0 829.1 C1122.0 830.2 1124.0 831.4 1126.0 832.6 C1128.0 833.8 1130.0 835.0 1132.0 836.2 C1134.0 837.4 1136.0 838.7 1138.0 839.9 C1140.0 841.2 1142.0 842.5 1144.0 843.7 C1146.0 845.0 1148.0 846.3 1150.0 847.6 C1152.0 849.0 1154.0 850.3 1156.0 851.6 C1158.0 853.0 1160.0 854.3 1162.0 855.7 C1164.0 857.0 1166.0 858.4 1168.0 859.8 C1170.0 861.2 1172.0 862.6 1174.0 864.0 C1176.0 865.4 1178.0 866.8 1180.0 868.2 C1182.0 869.7 1184.0 871.1 1186.0 872.6 C1188.0 874.0 1190.0 875.5 1192.0 876.9 C1194.0 878.4 1196.0 879.9 1198.0 881.3 C1200.0 882.8 1202.0 884.3 1204.0 885.8 C1206.0 887.3 1208.0 888.8 1210.0 890.3 C1212.0 891.8 1214.0 893.3 1216.0 894.8 C1218.0 896.3 1220.0 897.9 1222.0 899.4 C1224.0 900.9 1226.0 902.5 1228.0 904.0 C1230.0 905.5 1232.0 907.1 1234.0 908.6 C1236.0 910.2 1238.0 911.7 1240.0 913.2 C1242.0 914.8 1244.0 916.4 1246.0 917.9 C1248.0 919.5 1250.0 921.0 1252.0 922.6 C1254.0 924.1 1256.0 925.7 1258.0 927.2 C1260.0 928.8 1262.0 930.4 1264.0 931.9 C1266.0 933.5 1268.0 935.0 1270.0 936.6 C1272.0 938.1 1274.0 939.7 1276.0 941.2 C1278.0 942.8 1280.0 944.4 1282.0 945.9 C1284.0 947.4 1286.0 949.0 1288.0 950.5 C1290.0 952.1 1292.0 953.6 1294.0 955.2 C1296.0 956.7 1298.0 958.2 1300.0 959.7 C1302.0 961.3 1304.0 962.8 1306.0 964.3 C1308.0 965.8 1310.0 967.3 1312.0 968.8 C1314.0 970.4 1316.0 971.9 1318.0 973.3 C1320.0 974.8 1322.0 976.3 1324.0 977.8 C1326.0 979.3 1328.0 980.7 1330.0 982.2 C1332.0 983.7 1334.0 985.1 1336.0 986.6 C1338.0 988.0 1340.0 989.4 1342.0 990.9 C1344.0 992.3 1346.0 993.7 1348.0 995.1 C1350.0 996.5 1352.0 997.9 1354.0 999.3 C1356.0 1000.7 1358.0 1002.1 1360.0 1003.4 C1362.0 1004.8 1364.0 1006.1 1366.0 1007.5 C1368.0 1008.8 1370.0 1010.1 1372.0 1011.4 C1374.0 1012.8 1376.0 1014.1 1378.0 1015.3 C1380.0 1016.6 1382.0 1017.9 1384.0 1019.1 C1386.0 1020.4 1388.0 1021.6 1390.0 1022.9 C1392.0 1024.1 1394.0 1025.3 1396.0 1026.5 C1398.0 1027.7 1400.0 1028.9 1402.0 1030.0 C1404.0 1031.2 1406.0 1032.3 1408.0 1033.4 C1410.0 1034.6 1412.0 1035.7 1414.0 1036.8 C1416.0 1037.9 1418.0 1038.9 1420.0 1040.0 C1422.0 1041.0 1424.0 1042.1 1426.0 1043.1 C1428.0 1044.1 1430.0 1045.1 1432.0 1046.1 C1434.0 1047.0 1436.0 1048.0 1438.0 1048.9 C1440.0 1049.8 1442.0 1050.7 1444.0 1051.6 C1446.0 1052.5 1448.0 1053.4 1450.0 1054.2 C1452.0 1055.1 1454.0 1055.9 1456.0 1056.7 C1458.0 1057.5 1460.0 1058.3 1462.0 1059.0 C1464.0 1059.8 1466.0 1060.5 1468.0 1061.2 C1470.0 1061.9 1472.0 1062.6 1474.0 1063.2 C1476.0 1063.9 1478.0 1064.5 1480.0 1065.1 C1482.0 1065.7 1484.0 1066.3 1486.0 1066.8 C1488.0 1067.4 1490.0 1067.9 1492.0 1068.4 C1494.0 1068.9 1496.0 1069.3 1498.0 1069.8 C1500.0 1070.2 1502.0 1070.6 1504.0 1071.0 C1506.0 1071.3 1508.0 1071.7 1510.0 1072.0 C1512.0 1072.3 1514.0 1072.6 1516.0 1072.9 C1518.0 1073.1 1520.0 1073.4 1522.0 1073.6 C1524.0 1073.8 1525.9 1073.9 1528.0 1074.1 C1530.5 1074.2 1533.3 1074.3 1536.0 1074.4" fill="none" stroke="#1d60ad" stroke-width="5.4" stroke-linejoin="round" stroke-linecap="round"/>
<path d="M221.0 1016.5 C225.7 1016.5 230.4 1016.5 235.0 1016.6 C239.4 1016.7 244.8 1015.5 247.9 1017.0 C250.4 1018.2 251.4 1020.9 253.1 1023.0 C254.9 1025.2 256.7 1028.4 258.3 1030.0 C259.3 1031.0 259.9 1031.9 261.0 1032.0 C262.4 1032.1 264.5 1030.6 266.1 1029.5 C267.7 1028.3 269.3 1026.9 270.5 1025.0 C272.0 1022.6 272.6 1018.9 273.9 1016.0 C275.1 1013.2 277.1 1010.7 278.0 1008.0 C278.8 1005.4 278.8 1002.7 279.2 1000.0 C279.5 997.3 279.9 994.7 280.3 992.0 C280.7 989.3 281.0 986.7 281.4 984.0 C281.8 981.3 282.1 978.7 282.5 976.0 C282.8 973.3 283.2 970.7 283.5 968.0 C283.9 965.3 284.2 962.7 284.5 960.0 C284.9 957.3 285.2 954.7 285.5 952.0 C285.9 949.3 286.2 946.7 286.5 944.0 C286.8 941.3 287.2 938.7 287.5 936.0 C287.8 933.3 288.1 930.7 288.4 928.0 C288.7 925.3 289.0 922.7 289.3 920.0 C289.6 917.3 289.9 914.7 290.2 912.0 C290.5 909.3 290.8 906.7 291.0 904.0 C291.3 901.3 291.6 898.7 291.9 896.0 C292.1 893.3 292.4 890.7 292.7 888.0 C293.0 885.3 293.2 882.7 293.5 880.0 C293.7 877.3 294.0 874.7 294.3 872.0 C294.5 869.3 294.8 866.7 295.0 864.0 C295.3 861.3 295.5 858.7 295.8 856.0 C296.0 853.3 296.2 850.7 296.5 848.0 C296.7 845.3 297.0 842.7 297.2 840.0 C297.4 837.3 297.6 834.7 297.9 832.0 C298.1 829.3 298.3 826.7 298.5 824.0 C298.8 821.3 299.0 818.7 299.2 816.0 C299.4 813.3 299.6 810.7 299.8 808.0 C300.0 805.3 300.2 802.7 300.4 800.0 C300.7 797.3 300.9 794.7 301.1 792.0 C301.3 789.3 301.5 786.7 301.6 784.0 C301.8 781.3 302.0 778.7 302.2 776.0 C302.4 773.3 302.6 770.7 302.8 768.0 C303.0 765.3 303.2 762.7 303.4 760.0 C303.5 757.3 303.7 754.7 303.9 752.0 C304.1 749.3 304.3 746.7 304.4 744.0 C304.6 741.3 304.8 738.7 304.9 736.0 C305.1 733.3 305.3 730.7 305.5 728.0 C305.6 725.3 305.8 722.7 306.0 720.0 C306.1 717.3 306.3 714.7 306.5 712.0 C306.6 709.3 306.8 706.7 306.9 704.0 C307.1 701.3 307.3 698.7 307.4 696.0 C307.6 693.3 307.7 690.7 307.9 688.0 C308.0 685.3 308.2 682.7 308.3 680.0 C308.5 677.3 308.6 674.7 308.8 672.0 C308.9 669.3 309.1 666.7 309.2 664.0 C309.4 661.3 309.5 658.7 309.7 656.0 C309.8 653.3 310.0 650.7 310.1 648.0 C310.3 645.3 310.4 642.7 310.6 640.0 C310.7 637.3 310.8 634.7 311.0 632.0 C311.1 629.3 311.3 626.7 311.4 624.0 C311.6 621.3 311.7 618.7 311.8 616.0 C312.0 613.3 312.1 610.7 312.3 608.0 C312.4 605.3 312.5 602.7 312.7 600.0 C312.8 597.3 313.0 594.7 313.1 592.0 C313.2 589.3 313.4 586.7 313.5 584.0 C313.7 581.3 313.8 578.7 313.9 576.0 C314.1 573.3 314.2 570.7 314.4 568.0 C314.5 565.3 314.6 562.7 314.8 560.0 C314.9 557.3 315.1 554.7 315.2 552.0 C315.3 549.3 315.5 546.7 315.6 544.0 C315.8 541.3 315.9 538.7 316.0 536.0 C316.2 533.3 316.3 530.7 316.5 528.0 C316.6 525.3 316.8 522.7 316.9 520.0 C317.1 517.3 317.2 514.7 317.3 512.0 C317.5 509.3 317.6 506.7 317.8 504.0 C317.9 501.3 318.1 498.7 318.2 496.0 C318.4 493.3 318.5 490.7 318.7 488.0 C318.8 485.3 319.0 482.7 319.1 480.0 C319.3 477.3 319.5 474.7 319.6 472.0 C319.8 469.3 319.9 466.7 320.1 464.0 C320.2 461.3 320.4 458.7 320.6 456.0 C320.7 453.3 320.9 450.7 321.1 448.0 C321.2 445.3 321.4 442.7 321.6 440.0 C321.7 437.3 321.9 434.7 322.1 432.0 C322.2 429.3 322.4 426.7 322.6 424.0 C322.8 421.3 322.9 418.7 323.1 416.0 C323.3 413.3 323.5 410.7 323.7 408.0 C323.8 405.3 324.0 402.7 324.2 400.0 C324.4 397.3 324.6 394.7 324.8 392.0 C325.0 389.3 325.2 386.7 325.3 384.0 C325.5 381.3 325.7 378.7 325.9 376.0 C326.1 373.3 326.3 370.7 326.5 368.0 C326.7 365.3 327.0 362.7 327.2 360.0 C327.4 357.3 327.6 354.7 327.8 352.0 C328.0 349.3 328.2 346.7 328.4 344.0 C328.7 341.3 328.9 338.7 329.1 336.0 C329.3 333.3 329.6 330.7 329.8 328.0 C330.0 325.3 330.2 322.7 330.5 320.0 C330.7 317.3 331.0 314.7 331.2 312.0 C331.4 309.3 331.7 306.7 331.9 304.0 C332.2 301.3 332.4 298.7 332.7 296.0 C332.9 293.3 333.2 290.7 333.5 288.0 C333.7 285.3 334.0 282.7 334.2 280.0 C334.5 277.3 334.8 274.7 335.1 272.0 C335.3 269.3 335.6 266.7 335.9 264.0 C336.2 261.3 336.5 258.7 336.7 256.0 C337.0 253.3 337.3 250.7 337.6 248.0 C337.9 245.3 338.2 242.9 338.5 240.0 C338.9 236.6 338.9 232.9 339.8 229.0 C340.8 224.2 342.5 218.2 344.8 213.3 C347.1 208.3 350.5 199.8 353.7 199.3 C356.3 198.9 359.5 202.9 361.9 205.9 C364.9 209.6 367.1 215.7 369.3 220.7 C371.5 225.6 373.2 230.6 375.2 235.6 C377.2 240.5 379.1 245.5 381.1 250.4 C383.1 255.3 385.1 260.2 387.0 265.2 C388.9 270.3 390.6 275.0 392.6 280.8 C395.1 288.2 398.0 298.3 400.5 305.9 C402.6 312.3 404.5 317.8 406.5 323.5 C408.5 329.1 410.5 334.5 412.5 339.7 C414.5 344.8 416.5 349.8 418.5 354.7 C420.5 359.4 422.5 364.0 424.5 368.4 C426.5 372.8 428.5 377.0 430.5 381.1 C432.5 385.1 434.5 389.0 436.5 392.8 C438.5 396.6 440.5 400.2 442.5 403.7 C444.5 407.2 446.5 410.6 448.5 413.9 C450.5 417.1 452.5 420.3 454.5 423.4 C456.5 426.5 458.5 429.5 460.5 432.4 C462.5 435.3 464.5 438.2 466.5 441.0 C468.5 443.8 470.5 446.6 472.5 449.3 C474.5 452.0 476.5 454.7 478.5 457.4 C480.5 460.0 482.5 462.6 484.5 465.2 C486.5 467.8 488.5 470.4 490.5 472.9 C492.5 475.5 494.5 478.0 496.5 480.5 C498.5 483.0 500.5 485.5 502.5 488.0 C504.5 490.4 506.5 492.9 508.5 495.4 C510.5 497.8 512.5 500.3 514.5 502.8 C516.5 505.3 518.5 507.7 520.5 510.2 C522.5 512.7 524.5 515.2 526.5 517.8 C528.5 520.3 530.5 522.8 532.5 525.4 C534.5 528.0 536.5 530.6 538.5 533.2 C540.5 535.8 542.5 538.5 544.5 541.2 C546.5 543.9 548.5 546.6 550.5 549.3 C552.5 552.1 554.5 554.9 556.5 557.7 C558.5 560.5 560.5 563.4 562.5 566.3 C564.5 569.2 566.5 572.2 568.5 575.2 C570.5 578.2 572.5 581.2 574.5 584.3 C576.5 587.4 578.5 590.5 580.5 593.7 C582.5 596.9 584.5 600.1 586.5 603.4 C588.5 606.7 590.5 610.1 592.5 613.4 C594.5 616.9 596.5 620.3 598.5 623.8 C600.5 627.4 602.5 630.9 604.5 634.5 C606.5 638.2 608.5 641.8 610.5 645.5 C612.5 649.3 614.5 653.0 616.5 656.8 C618.5 660.5 620.5 664.4 622.5 668.2 C624.5 672.0 626.5 675.8 628.5 679.7 C630.5 683.5 632.5 687.4 634.5 691.2 C636.5 695.0 638.5 698.9 640.5 702.7 C642.5 706.6 644.5 710.4 646.5 714.2 C648.5 718.0 650.5 721.8 652.5 725.5 C654.5 729.2 656.5 733.0 658.5 736.6 C660.5 740.3 662.5 743.9 664.5 747.5 C666.5 751.1 668.5 754.6 670.5 758.1 C672.5 761.5 674.5 764.9 676.5 768.3 C678.5 771.7 680.5 775.0 682.5 778.3 C684.5 781.5 686.5 784.7 688.5 788.0 C690.5 791.2 692.5 794.3 694.5 797.5 C696.5 800.6 698.5 803.7 700.5 806.9 C702.5 810.0 704.5 813.1 706.5 816.1 C708.5 819.1 710.5 822.2 712.5 825.0 C714.5 827.8 716.4 830.5 718.5 833.0 C720.4 835.3 722.4 837.6 724.5 839.5 C726.4 841.3 728.4 842.9 730.5 844.3 C732.4 845.6 734.5 846.8 736.5 847.7 C738.5 848.7 740.5 849.4 742.5 850.1 C744.5 850.7 746.5 851.2 748.5 851.7 C750.5 852.1 752.5 852.5 754.5 852.8 C756.5 853.1 758.5 853.3 760.5 853.4 C762.5 853.5 764.5 853.6 766.5 853.6 C768.5 853.6 770.5 853.5 772.5 853.4 C774.5 853.2 776.5 853.1 778.5 852.8 C780.5 852.6 782.5 852.3 784.5 852.0 C786.5 851.7 788.5 851.3 790.5 850.9 C792.5 850.5 794.5 850.1 796.5 849.6 C798.5 849.1 800.5 848.6 802.5 848.1 C804.5 847.6 806.5 847.0 808.5 846.4 C810.5 845.8 812.5 845.2 814.5 844.5 C816.5 843.8 818.5 843.2 820.5 842.5 C822.5 841.7 824.5 841.0 826.5 840.3 C828.5 839.5 830.5 838.7 832.5 837.9 C834.5 837.1 836.5 836.3 838.5 835.5 C840.5 834.6 842.5 833.8 844.5 832.9 C846.5 832.0 848.5 831.1 850.5 830.3 C852.5 829.4 854.5 828.5 856.5 827.5 C858.5 826.6 860.5 825.7 862.5 824.8 C864.5 823.8 866.5 822.9 868.5 821.9 C870.5 821.0 872.5 820.1 874.5 819.1 C876.5 818.2 878.5 817.2 880.5 816.3 C882.5 815.3 884.5 814.4 886.5 813.4 C888.5 812.5 890.5 811.5 892.5 810.6 C894.5 809.6 896.5 808.7 898.5 807.8 C900.5 806.9 902.5 806.0 904.5 805.0 C906.5 804.1 908.5 803.3 910.5 802.4 C912.5 801.5 914.5 800.6 916.5 799.8 C918.5 798.9 920.5 798.1 922.5 797.3 C924.5 796.5 926.5 795.7 928.5 794.9 C930.5 794.1 932.5 793.4 934.5 792.6 C936.5 791.9 938.5 791.2 940.5 790.5 C942.5 789.8 944.5 789.1 946.5 788.5 C948.5 787.8 950.5 787.2 952.5 786.6 C954.5 786.0 956.5 785.5 958.5 784.9 C960.5 784.4 962.5 783.9 964.5 783.4 C966.5 782.9 968.5 782.4 970.5 782.0 C972.5 781.6 974.5 781.2 976.5 780.8 C978.5 780.5 980.5 780.1 982.5 779.8 C984.5 779.5 986.5 779.2 988.5 779.0 C990.5 778.8 992.5 778.6 994.5 778.4 C996.5 778.2 998.5 778.1 1000.5 778.0 C1002.5 777.9 1004.5 777.9 1006.5 777.8 C1008.5 777.8 1010.5 777.8 1012.5 777.9 C1014.5 778.0 1016.5 778.0 1018.5 778.2 C1020.5 778.3 1022.5 778.5 1024.5 778.7 C1026.5 778.9 1028.5 779.1 1030.5 779.4 C1032.5 779.7 1034.5 780.0 1036.5 780.4 C1038.5 780.7 1040.5 781.1 1042.5 781.5 C1044.5 781.9 1046.5 782.4 1048.5 782.8 C1050.5 783.3 1052.5 783.8 1054.5 784.4 C1056.5 784.9 1058.5 785.5 1060.5 786.1 C1062.5 786.7 1064.5 787.3 1066.5 788.0 C1068.5 788.6 1070.5 789.3 1072.5 790.0 C1074.5 790.8 1076.5 791.5 1078.5 792.3 C1080.5 793.0 1082.5 793.8 1084.5 794.7 C1086.5 795.5 1088.5 796.3 1090.5 797.2 C1092.5 798.1 1094.5 799.0 1096.5 799.9 C1098.5 800.8 1100.5 801.8 1102.5 802.7 C1104.5 803.7 1106.5 804.7 1108.5 805.7 C1110.5 806.7 1112.5 807.7 1114.5 808.8 C1116.5 809.8 1118.5 810.9 1120.5 812.0 C1122.5 813.1 1124.5 814.2 1126.5 815.3 C1128.5 816.5 1130.5 817.6 1132.5 818.8 C1134.5 819.9 1136.5 821.1 1138.5 822.3 C1140.5 823.5 1142.5 824.7 1144.5 826.0 C1146.5 827.2 1148.5 828.4 1150.5 829.7 C1152.5 830.9 1154.5 832.2 1156.5 833.5 C1158.5 834.8 1160.5 836.1 1162.5 837.4 C1164.5 838.7 1166.5 840.0 1168.5 841.4 C1170.5 842.7 1172.5 844.0 1174.5 845.4 C1176.5 846.8 1178.5 848.1 1180.5 849.5 C1182.5 850.9 1184.5 852.3 1186.5 853.7 C1188.5 855.1 1190.5 856.5 1192.5 857.9 C1194.5 859.4 1196.5 860.8 1198.5 862.2 C1200.5 863.7 1202.5 865.1 1204.5 866.6 C1206.5 868.0 1208.5 869.5 1210.5 871.0 C1212.5 872.4 1214.5 873.9 1216.5 875.4 C1218.5 876.9 1220.5 878.4 1222.5 879.9 C1224.5 881.4 1226.5 882.9 1228.5 884.4 C1230.5 885.9 1232.5 887.4 1234.5 888.9 C1236.5 890.5 1238.5 892.0 1240.5 893.5 C1242.5 895.0 1244.5 896.6 1246.5 898.1 C1248.5 899.6 1250.5 901.2 1252.5 902.7 C1254.5 904.3 1256.5 905.8 1258.5 907.3 C1260.5 908.9 1262.5 910.4 1264.5 912.0 C1266.5 913.5 1268.5 915.1 1270.5 916.6 C1272.5 918.2 1274.5 919.7 1276.5 921.3 C1278.5 922.8 1280.5 924.4 1282.5 925.9 C1284.5 927.5 1286.5 929.0 1288.5 930.5 C1290.5 932.1 1292.5 933.6 1294.5 935.2 C1296.5 936.7 1298.5 938.2 1300.5 939.8 C1302.5 941.3 1304.5 942.8 1306.5 944.4 C1308.5 945.9 1310.5 947.4 1312.5 948.9 C1314.5 950.5 1316.5 952.0 1318.5 953.5 C1320.5 955.0 1322.5 956.5 1324.5 958.0 C1326.5 959.5 1328.5 961.0 1330.5 962.5 C1332.5 963.9 1334.5 965.4 1336.5 966.9 C1338.5 968.4 1340.5 969.8 1342.5 971.3 C1344.5 972.7 1346.5 974.2 1348.5 975.6 C1350.5 977.1 1352.5 978.5 1354.5 979.9 C1356.5 981.3 1358.5 982.7 1360.5 984.1 C1362.5 985.5 1364.5 986.9 1366.5 988.3 C1368.5 989.7 1370.5 991.0 1372.5 992.4 C1374.5 993.8 1376.5 995.1 1378.5 996.4 C1380.5 997.8 1382.5 999.1 1384.5 1000.4 C1386.5 1001.7 1388.5 1003.0 1390.5 1004.3 C1392.5 1005.5 1394.5 1006.8 1396.5 1008.0 C1398.5 1009.3 1400.5 1010.5 1402.5 1011.7 C1404.5 1012.9 1406.5 1014.1 1408.5 1015.3 C1410.5 1016.5 1412.5 1017.6 1414.5 1018.8 C1416.5 1019.9 1418.5 1021.0 1420.5 1022.1 C1422.5 1023.2 1424.5 1024.3 1426.5 1025.3 C1428.5 1026.4 1430.5 1027.4 1432.5 1028.5 C1434.5 1029.5 1436.5 1030.5 1438.5 1031.4 C1440.5 1032.4 1442.5 1033.3 1444.5 1034.3 C1446.5 1035.2 1448.5 1036.1 1450.5 1036.9 C1452.5 1037.8 1454.5 1038.7 1456.5 1039.5 C1458.5 1040.3 1460.5 1041.1 1462.5 1041.9 C1464.5 1042.6 1466.5 1043.4 1468.5 1044.1 C1470.5 1044.8 1472.5 1045.5 1474.5 1046.1 C1476.5 1046.8 1478.5 1047.4 1480.5 1048.0 C1482.5 1048.6 1484.5 1049.1 1486.5 1049.7 C1488.5 1050.2 1490.5 1050.7 1492.5 1051.2 C1494.5 1051.6 1496.5 1052.1 1498.5 1052.5 C1500.5 1052.9 1502.5 1053.2 1504.5 1053.6 C1506.5 1053.9 1508.5 1054.2 1510.5 1054.5 C1512.5 1054.7 1514.5 1054.9 1516.5 1055.1 C1518.5 1055.3 1520.5 1055.5 1522.5 1055.6 C1524.5 1055.7 1526.4 1055.8 1528.5 1055.8 C1530.9 1055.9 1533.5 1055.8 1536.0 1055.8" fill="none" stroke="#219470" stroke-width="5.4" stroke-linejoin="round" stroke-linecap="round"/>
<g stroke="#000" stroke-width="6" fill="none" stroke-linecap="butt">
<rect x="221" y="62.5" width="1316" height="1057.5" stroke-linejoin="miter"/>
<line x1="221.0" y1="1120.0" x2="221.0" y2="1139.0"/>
<line x1="352.6" y1="1120.0" x2="352.6" y2="1129.0"/>
<line x1="484.2" y1="1120.0" x2="484.2" y2="1139.0"/>
<line x1="615.8" y1="1120.0" x2="615.8" y2="1129.0"/>
<line x1="747.4" y1="1120.0" x2="747.4" y2="1139.0"/>
<line x1="879.0" y1="1120.0" x2="879.0" y2="1129.0"/>
<line x1="1010.6" y1="1120.0" x2="1010.6" y2="1139.0"/>
<line x1="1142.2" y1="1120.0" x2="1142.2" y2="1129.0"/>
<line x1="1273.8" y1="1120.0" x2="1273.8" y2="1139.0"/>
<line x1="1405.4" y1="1120.0" x2="1405.4" y2="1129.0"/>
<line x1="1537.0" y1="1120.0" x2="1537.0" y2="1139.0"/>
<line x1="221.0" y1="1120.0" x2="200.0" y2="1120.0"/>
<line x1="221.0" y1="1014.2" x2="210.0" y2="1014.2"/>
<line x1="221.0" y1="908.5" x2="200.0" y2="908.5"/>
<line x1="221.0" y1="802.8" x2="210.0" y2="802.8"/>
<line x1="221.0" y1="697.0" x2="200.0" y2="697.0"/>
<line x1="221.0" y1="591.2" x2="210.0" y2="591.2"/>
<line x1="221.0" y1="485.5" x2="200.0" y2="485.5"/>
<line x1="221.0" y1="379.7" x2="210.0" y2="379.7"/>
<line x1="221.0" y1="274.0" x2="200.0" y2="274.0"/>
<line x1="221.0" y1="168.2" x2="210.0" y2="168.2"/>
<line x1="221.0" y1="62.5" x2="200.0" y2="62.5"/>
</g>
<text x="221.6" y="1200.5" font-size="61" text-anchor="middle">200</text>
<text x="484.5" y="1200.5" font-size="61" text-anchor="middle">220</text>
<text x="747.5" y="1200.5" font-size="61" text-anchor="middle">240</text>
<text x="1011.2" y="1200.5" font-size="61" text-anchor="middle">260</text>
<text x="1273.0" y="1200.5" font-size="61" text-anchor="middle">280</text>
<text x="1535.5" y="1200.5" font-size="61" text-anchor="middle">300</text>
<text x="185" y="1136.5" font-size="61" text-anchor="end">0.0</text>
<text x="185" y="925.0" font-size="61" text-anchor="end">0.1</text>
<text x="185" y="713.5" font-size="61" text-anchor="end">0.2</text>
<text x="185" y="502.0" font-size="61" text-anchor="end">0.3</text>
<text x="185" y="290.5" font-size="61" text-anchor="end">0.4</text>
<text x="185" y="79.0" font-size="61" text-anchor="end">0.5</text>
<text x="646" y="1304" font-size="66" textLength="467" lengthAdjust="spacingAndGlyphs">Wavelength(nm)</text>
<text transform="translate(84.3,826) rotate(-90)" font-size="65" textLength="474.7" lengthAdjust="spacingAndGlyphs">Absorbance(a.u.)</text>
<line x1="721" y1="233.3" x2="874" y2="233.3" stroke="#4a4a4a" stroke-width="5.5"/>
<text x="884.5" y="255.1" font-size="65" textLength="537.7" lengthAdjust="spacingAndGlyphs">150ng/mL+0ng/mL</text>
<line x1="721" y1="314.4" x2="874" y2="314.4" stroke="#dc4c5c" stroke-width="5.5"/>
<text x="884.5" y="336.2" font-size="65" textLength="571.7" lengthAdjust="spacingAndGlyphs">150ng/mL+50ng/mL</text>
<line x1="721" y1="395.5" x2="874" y2="395.5" stroke="#1d60ad" stroke-width="5.5"/>
<text x="884.3" y="417.3" font-size="65" textLength="571.6" lengthAdjust="spacingAndGlyphs">200ng/mL+50ng/mL</text>
<line x1="721" y1="477.2" x2="874" y2="477.2" stroke="#219470" stroke-width="5.5"/>
<text x="884.3" y="499.0" font-size="65" textLength="571.6" lengthAdjust="spacingAndGlyphs">250ng/mL+50ng/mL</text>
</g>
</svg></body></html>
